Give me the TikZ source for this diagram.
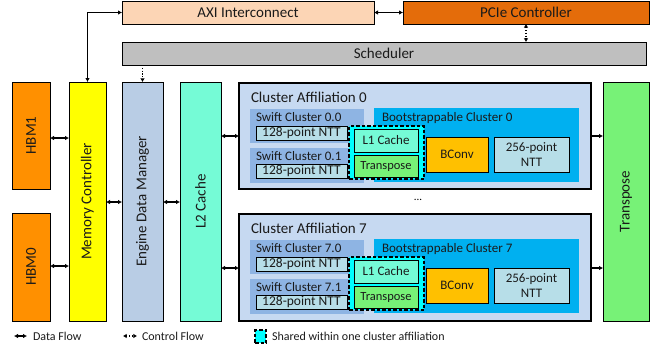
\documentclass[tikz,border=0pt]{standalone}
\usepackage{fontspec}
\setmainfont{Carlito}
\usetikzlibrary{arrows.meta}
\definecolor{caxi}{HTML}{FCD5B5}
\definecolor{cpcie}{HTML}{E46C0A}
\definecolor{csch}{HTML}{BFBFBF}
\definecolor{chbm}{HTML}{FF9000}
\definecolor{cmc}{HTML}{FFFF00}
\definecolor{cedm}{HTML}{B9CDE5}
\definecolor{cl2}{HTML}{75FBD6}
\definecolor{cca}{HTML}{C6D9F1}
\definecolor{cswift}{HTML}{8EB4E3}
\definecolor{cntt}{HTML}{B7DEE8}
\definecolor{cboot}{HTML}{00B0F0}
\definecolor{cshare}{HTML}{00FFFF}
\definecolor{ctr}{HTML}{77F277}
\definecolor{cbconv}{HTML}{FFC000}
\definecolor{ctext}{HTML}{1A1A1A}
\newcommand\bx[7]{\node[#6, minimum width={(#4)-(#2)}, minimum height={(#5)-(#3)}] (#1) at ({((#2)+(#4))/2},{((#3)+(#5))/2}) {#7};}
\tikzset{
  big/.style={font=\fontsize{15}{17}\selectfont},
  mid/.style={font=\fontsize{13}{15}\selectfont},
  blk/.style={draw=black, line width=1pt, inner sep=0pt, outer sep=0pt, text=ctext, big, align=center},
  plain/.style={inner sep=0pt, outer sep=0pt},
  ttl/.style={inner sep=0pt, outer sep=0pt, anchor=west, text=ctext},
  tip/.style={},
  dflow/.style={line width=1.2pt, {Latex[length=4pt,width=4.6pt]}-{Latex[length=4pt,width=4.6pt]}},
  dflowone/.style={line width=1.2pt, -{Latex[length=4pt,width=4.6pt]}},
  cflow/.style={line width=1.2pt, dash pattern=on 1.2pt off 1.6pt, {Latex[length=3.6pt,width=4.6pt]}-{Latex[length=3.6pt,width=4.6pt]}},
  cflowone/.style={line width=1.2pt, dash pattern=on 1.2pt off 1.6pt, -{Latex[length=3.6pt,width=4.6pt]}},
  sharedbox/.style={draw=black, fill=cshare, line width=1.2pt, dash pattern=on 3.5pt off 2pt, inner sep=0pt, outer sep=0pt},
}
\begin{document}
\begin{tikzpicture}[x=1pt,y=-1pt]
\useasboundingbox (0,0) rectangle (653,349);
% top row
\bx{axi}{122}{1}{374}{24}{blk,fill=caxi}{AXI Interconnect}
\bx{pcie}{403}{1}{649}{24}{blk,fill=cpcie}{PCIe Controller}
\bx{sch}{122}{42}{646}{65}{blk,fill=csch}{Scheduler}
% columns
\bx{hbm1}{12}{82}{50}{189}{blk,fill=chbm}{\rotatebox{90}{HBM1}}
\bx{hbm0}{12}{213}{50}{321}{blk,fill=chbm}{\rotatebox{90}{HBM0}}
\bx{mc}{69}{82}{106}{321}{blk,fill=cmc}{\rotatebox{90}{Memory Controller}}
\bx{edm}{122}{82}{163}{321}{blk,fill=cedm}{\rotatebox{90}{Engine Data Manager}}
\bx{l2}{180}{82}{221}{321}{blk,fill=cl2}{\rotatebox{90}{L2 Cache}}
\bx{tr}{603}{82}{649}{321}{blk,fill=ctr}{\rotatebox{90}{Transpose}}
% cluster affiliation 0
\bx{ca0}{239}{83}{591}{189}{blk,fill=cca,line width=1.2pt}{}
\node[ttl,big] (ca0t) at (251,97) {Cluster Affiliation 0};
\bx{sw00}{250}{109}{364}{143}{plain,fill=cswift}{}
\node[ttl,mid] (sw00t) at (256,117) {Swift Cluster 0.0};
\bx{n00}{256}{126}{347}{140}{blk,fill=cntt,font=\fontsize{13.5}{15}\selectfont}{128-point NTT}
\bx{sw01}{250}{148}{364}{183}{plain,fill=cswift}{}
\node[ttl,mid] (sw01t) at (256,156) {Swift Cluster 0.1};
\bx{n01}{256}{164}{347}{178}{blk,fill=cntt,font=\fontsize{13.5}{15}\selectfont}{128-point NTT}
\bx{bc0}{374}{108}{579}{182}{plain,fill=cboot}{}
\node[ttl,mid] (bc0t) at (382,118) {Bootstrappable Cluster 0};
\bx{sh0}{349}{126}{424}{179}{sharedbox}{}
\bx{l10}{354}{129}{418}{152}{blk,fill=cl2,mid}{L1 Cache}
\bx{tp0}{354}{155}{418}{177}{blk,fill=ctr,font=\fontsize{12.5}{14}\selectfont}{Transpose}
\bx{bv0}{426}{137}{488}{172}{blk,fill=cbconv,mid}{BConv}
\bx{nb0}{494}{137}{569}{172}{blk,fill=cntt,font=\fontsize{13}{15.5}\selectfont}{256-point\\NTT}
% dots
\node[plain,font=\fontsize{11}{12}\selectfont] (dots) at (418,200) {...};
% cluster affiliation 7
\bx{ca7}{239}{214}{591}{321}{blk,fill=cca,line width=1.2pt}{}
\node[ttl,big] (ca7t) at (251,228) {Cluster Affiliation 7};
\bx{sw70}{250}{240}{364}{274}{plain,fill=cswift}{}
\node[ttl,mid] (sw70t) at (256,248) {Swift Cluster 7.0};
\bx{n70}{256}{257}{347}{271}{blk,fill=cntt,font=\fontsize{13.5}{15}\selectfont}{128-point NTT}
\bx{sw71}{250}{279}{364}{314}{plain,fill=cswift}{}
\node[ttl,mid] (sw71t) at (256,287) {Swift Cluster 7.1};
\bx{n71}{256}{295}{347}{309}{blk,fill=cntt,font=\fontsize{13.5}{15}\selectfont}{128-point NTT}
\bx{bc7}{374}{239}{579}{313}{plain,fill=cboot}{}
\node[ttl,mid] (bc7t) at (382,249) {Bootstrappable Cluster 7};
\bx{sh7}{349}{257}{424}{310}{sharedbox}{}
\bx{l17}{354}{260}{418}{283}{blk,fill=cl2,mid}{L1 Cache}
\bx{tp7}{354}{286}{418}{308}{blk,fill=ctr,font=\fontsize{12.5}{14}\selectfont}{Transpose}
\bx{bv7}{426}{268}{488}{303}{blk,fill=cbconv,mid}{BConv}
\bx{nb7}{494}{268}{569}{303}{blk,fill=cntt,font=\fontsize{13}{15.5}\selectfont}{256-point\\NTT}
% helper coordinates
\coordinate (y138) at (0,138);
\coordinate (y266) at (0,266);
\coordinate (y202) at (0,202);
\coordinate (y136) at (0,136);
\coordinate (y268) at (0,268);
% connectors
\draw[dflow] (axi.west) -| (mc.north);
\draw[dflow] (axi.east) -- (pcie.west);
\draw[cflow] (pcie.south) -- (pcie.south |- sch.north);
\draw[cflowone] (sch.south -| edm.north) -- (edm.north);
\draw[dflow] (hbm1.east |- y138) -- (mc.west |- y138);
\draw[dflow] (hbm0.east |- y266) -- (mc.west |- y266);
\draw[dflow] (mc.east |- y202) -- (edm.west |- y202);
\draw[dflow] (edm.east |- y202) -- (l2.west |- y202);
\draw[dflow] (l2.east |- y136) -- (ca0.west |- y136);
\draw[dflow] (l2.east |- y268) -- (ca7.west |- y268);
\draw[dflowone] (ca0.east |- y136) -- (tr.west |- y136);
\draw[dflowone] (ca7.east |- y268) -- (tr.west |- y268);
% legend
\coordinate (ld1) at (14,336);
\coordinate (ld2) at (27,336);
\draw[dflow] (ld1) -- (ld2);
\node[ttl,font=\fontsize{12}{14}\selectfont] (ldt) at (33,336) {Data Flow};
\coordinate (lc1) at (123,336);
\coordinate (lc2) at (137,336);
\draw[cflow] (lc1) -- (lc2);
\node[ttl,font=\fontsize{12}{14}\selectfont] (lct) at (142,336) {Control Flow};
\bx{lsh}{255}{330}{266}{343}{sharedbox}{}
\node[ttl,font=\fontsize{12}{14}\selectfont] (lst) at (272,336) {Shared within one cluster affiliation};
\end{tikzpicture}
\end{document}
